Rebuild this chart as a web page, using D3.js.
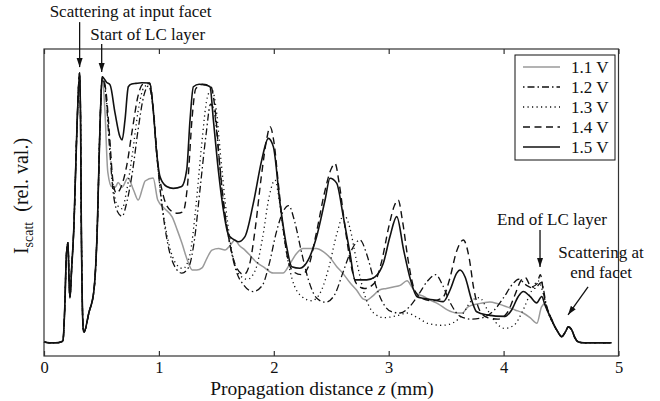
<!DOCTYPE html>
<html lang="en">
<head>
<meta charset="UTF-8" />
<title>Scattered intensity along the waveguide</title>
<script src="https://d3js.org/d3.v7.min.js"></script>
<style>
    body { margin: 0; background: #fff; }
    svg text { font-family: "Liberation Serif", "DejaVu Serif", serif; fill: #111; }
</style>
</head>
<body>
<script>
    var w = 660, h = 401;
    var plot = {left: 44, right: 618.5, top: 49, bottom: 356};

    // shared part: all voltages overlap before the LC layer
    var startPart = [
        [0, 0.046], [0.05, 0.043], [0.10, 0.043], [0.15, 0.046], [0.165, 0.05],
        [0.18, 0.15], [0.195, 0.33], [0.209, 0.369], [0.217, 0.26], [0.226, 0.19],
        [0.24, 0.28], [0.26, 0.42], [0.287, 0.746], [0.31, 0.922], [0.318, 0.78],
        [0.325, 0.42], [0.342, 0.085], [0.348, 0.078], [0.39, 0.14], [0.435, 0.215],
        [0.464, 0.42], [0.487, 0.746], [0.507, 0.909]
    ];
    // shared tail after the end of the LC layer
    var tailPart = [
        [4.44, 0.10], [4.47, 0.08], [4.506, 0.063], [4.54, 0.08], [4.563, 0.095],
        [4.593, 0.085], [4.62, 0.06], [4.65, 0.046], [4.70, 0.043], [4.80, 0.043], [4.94, 0.043]
    ];

    var v11 = [
        [0.53, 0.80], [0.555, 0.60], [0.59, 0.551], [0.62, 0.55], [0.645, 0.565], [0.68, 0.55],
        [0.73, 0.58], [0.78, 0.54], [0.82, 0.508], [0.86, 0.55], [0.88, 0.57], [0.95, 0.58],
        [0.99, 0.508], [1.05, 0.48], [1.115, 0.453], [1.16, 0.41], [1.20, 0.368], [1.25, 0.31],
        [1.29, 0.28], [1.33, 0.28], [1.375, 0.287], [1.42, 0.32], [1.462, 0.345], [1.52, 0.35],
        [1.575, 0.345], [1.62, 0.36], [1.662, 0.378], [1.70, 0.36], [1.749, 0.345], [1.80, 0.325],
        [1.85, 0.305], [1.91, 0.29], [1.996, 0.27], [2.08, 0.27], [2.14, 0.30], [2.20, 0.335],
        [2.255, 0.35], [2.31, 0.35], [2.37, 0.35], [2.43, 0.34], [2.49, 0.32], [2.55, 0.29],
        [2.60, 0.27], [2.66, 0.24], [2.72, 0.215], [2.78, 0.185], [2.81, 0.182], [2.86, 0.195],
        [2.92, 0.215], [2.98, 0.22], [3.04, 0.225], [3.10, 0.23], [3.16, 0.245], [3.20, 0.225],
        [3.24, 0.205], [3.30, 0.195], [3.36, 0.182], [3.43, 0.17], [3.51, 0.15], [3.59, 0.14],
        [3.64, 0.14], [3.69, 0.16], [3.78, 0.17], [3.88, 0.176], [3.95, 0.17], [4.03, 0.16],
        [4.10, 0.15], [4.17, 0.14], [4.23, 0.125], [4.29, 0.107], [4.33, 0.16], [4.36, 0.17],
        [4.39, 0.14], [4.42, 0.12]
    ];
    var v12 = [
        [0.54, 0.84], [0.57, 0.68], [0.60, 0.54], [0.64, 0.47], [0.68, 0.455], [0.72, 0.50],
        [0.77, 0.60], [0.82, 0.74], [0.87, 0.85], [0.91, 0.88], [0.945, 0.82], [0.98, 0.66],
        [1.03, 0.48], [1.08, 0.36], [1.14, 0.29], [1.20, 0.27], [1.26, 0.29], [1.31, 0.38],
        [1.36, 0.55], [1.41, 0.72], [1.45, 0.82], [1.48, 0.80], [1.52, 0.66], [1.56, 0.50],
        [1.61, 0.38], [1.67, 0.28], [1.74, 0.23], [1.82, 0.21], [1.90, 0.23], [1.96, 0.30],
        [2.02, 0.40], [2.08, 0.47], [2.13, 0.49], [2.18, 0.44], [2.24, 0.34], [2.30, 0.25],
        [2.37, 0.19], [2.45, 0.175], [2.53, 0.20], [2.60, 0.27], [2.67, 0.34], [2.75, 0.378],
        [2.81, 0.33], [2.87, 0.25], [2.94, 0.18], [3.02, 0.145], [3.10, 0.14], [3.18, 0.16],
        [3.26, 0.20], [3.34, 0.245], [3.41, 0.265], [3.47, 0.23], [3.54, 0.17], [3.62, 0.13],
        [3.72, 0.12], [3.82, 0.125], [3.92, 0.15], [4.00, 0.19], [4.08, 0.235], [4.13, 0.25],
        [4.20, 0.23], [4.27, 0.22], [4.33, 0.24], [4.37, 0.17], [4.41, 0.125]
    ];
    var v13 = [
        [0.54, 0.85], [0.57, 0.70], [0.60, 0.56], [0.64, 0.49], [0.68, 0.48], [0.72, 0.54],
        [0.77, 0.66], [0.82, 0.80], [0.87, 0.875], [0.92, 0.885], [0.955, 0.78], [0.99, 0.62],
        [1.04, 0.46], [1.09, 0.36], [1.15, 0.30], [1.21, 0.285], [1.27, 0.33], [1.32, 0.48],
        [1.37, 0.68], [1.42, 0.84], [1.46, 0.87], [1.50, 0.80], [1.54, 0.64], [1.59, 0.46],
        [1.64, 0.33], [1.70, 0.265], [1.77, 0.25], [1.84, 0.28], [1.90, 0.38], [1.96, 0.52],
        [2.01, 0.573], [2.05, 0.50], [2.10, 0.36], [2.16, 0.25], [2.24, 0.195], [2.33, 0.18],
        [2.41, 0.21], [2.48, 0.29], [2.55, 0.40], [2.61, 0.46], [2.66, 0.42], [2.72, 0.31],
        [2.79, 0.20], [2.87, 0.14], [2.96, 0.125], [3.06, 0.13], [3.16, 0.14], [3.25, 0.125],
        [3.35, 0.105], [3.47, 0.10], [3.57, 0.11], [3.65, 0.14], [3.72, 0.18], [3.79, 0.19],
        [3.86, 0.15], [3.93, 0.11], [4.01, 0.09], [4.09, 0.10], [4.17, 0.15], [4.24, 0.21],
        [4.30, 0.245], [4.34, 0.21], [4.38, 0.15], [4.41, 0.12]
    ];
    var v14 = [
        [0.54, 0.86], [0.57, 0.72], [0.60, 0.57], [0.63, 0.53], [0.67, 0.55], [0.72, 0.62],
        [0.77, 0.74], [0.82, 0.85], [0.86, 0.885], [0.92, 0.888], [0.955, 0.79], [0.99, 0.63],
        [1.04, 0.52], [1.10, 0.475], [1.16, 0.465], [1.21, 0.47], [1.25, 0.56], [1.29, 0.78],
        [1.32, 0.87], [1.38, 0.885], [1.45, 0.88], [1.49, 0.80], [1.53, 0.62], [1.57, 0.48],
        [1.62, 0.36], [1.68, 0.285], [1.74, 0.265], [1.79, 0.30], [1.84, 0.42], [1.89, 0.58],
        [1.94, 0.71], [1.967, 0.747], [2.00, 0.70], [2.04, 0.56], [2.08, 0.42], [2.12, 0.32],
        [2.17, 0.275], [2.24, 0.265], [2.30, 0.29], [2.37, 0.40], [2.44, 0.53], [2.50, 0.61],
        [2.533, 0.627], [2.57, 0.56], [2.62, 0.42], [2.67, 0.30], [2.72, 0.235], [2.79, 0.22],
        [2.87, 0.235], [2.94, 0.31], [3.00, 0.42], [3.05, 0.49], [3.083, 0.508], [3.12, 0.44],
        [3.17, 0.31], [3.22, 0.22], [3.28, 0.19], [3.38, 0.18], [3.47, 0.19], [3.53, 0.25],
        [3.59, 0.34], [3.65, 0.378], [3.70, 0.32], [3.74, 0.22], [3.79, 0.15], [3.86, 0.125],
        [3.95, 0.12], [4.03, 0.14], [4.10, 0.20], [4.15, 0.245], [4.19, 0.255], [4.24, 0.225],
        [4.29, 0.235], [4.32, 0.265], [4.35, 0.20], [4.38, 0.15], [4.41, 0.125]
    ];
    var v15 = [
        [0.546, 0.891], [0.575, 0.883], [0.618, 0.792], [0.661, 0.714], [0.68, 0.704], [0.705, 0.769],
        [0.734, 0.877], [0.763, 0.886], [0.80, 0.888], [0.85, 0.89], [0.92, 0.889], [0.951, 0.80],
        [0.981, 0.661], [1.01, 0.584], [1.068, 0.552], [1.125, 0.546], [1.198, 0.552], [1.242, 0.606],
        [1.271, 0.769], [1.30, 0.877], [1.35, 0.885], [1.40, 0.883], [1.445, 0.877], [1.474, 0.769],
        [1.517, 0.606], [1.561, 0.476], [1.605, 0.395], [1.65, 0.38], [1.691, 0.372], [1.749, 0.389],
        [1.822, 0.498], [1.895, 0.638], [1.952, 0.709], [1.996, 0.682], [2.054, 0.498], [2.112, 0.356],
        [2.156, 0.291], [2.228, 0.286], [2.30, 0.313], [2.373, 0.389], [2.446, 0.508], [2.489, 0.579],
        [2.547, 0.563], [2.605, 0.454], [2.663, 0.335], [2.707, 0.248], [2.809, 0.248], [2.881, 0.258],
        [2.953, 0.302], [3.011, 0.389], [3.07, 0.454], [3.13, 0.345], [3.19, 0.248], [3.245, 0.194],
        [3.301, 0.188], [3.40, 0.182], [3.475, 0.177], [3.534, 0.215], [3.592, 0.27], [3.621, 0.28],
        [3.664, 0.258], [3.722, 0.182], [3.766, 0.144], [3.853, 0.134], [4.012, 0.129], [4.07, 0.15],
        [4.128, 0.194], [4.172, 0.21], [4.23, 0.194], [4.288, 0.173], [4.332, 0.194], [4.36, 0.166],
        [4.404, 0.129]
    ];

    var voltages = ["1.1 V", "1.2 V", "1.3 V", "1.4 V", "1.5 V"];
    var xTicks = [0, 1, 2, 3, 4, 5];

    var annotations = [
        {lines: ["Scattering at input facet"], z: 0.31, v: 0.941, tail: [0, -45], text: [51, -50]},
        {lines: ["Start of LC layer"], z: 0.502, v: 0.925, tail: [0, -28], text: [46, -32]},
        {lines: ["End of LC layer"], z: 4.317, v: 0.29, tail: [0, -37], text: [12, -42]},
        {lines: ["Scattering at", "end facet"], z: 4.561, v: 0.134, tail: [20, -28], text: [33, -57]}
    ];

    var styles = [
        {color: "#9a9a9a", dash: null, width: 1.5},
        {color: "#111", dash: "1.5,3,7,3", width: 1.3},
        {color: "#111", dash: "1.2,3.3", width: 1.3},
        {color: "#111", dash: "7,4.5", width: 1.4},
        {color: "#111", dash: null, width: 1.6}
    ];

    var series = [v11, v12, v13, v14, v15].map(function(mid, i) {
        return {name: voltages[i], values: startPart.concat(mid, tailPart)};
    });

    var svg = d3.select("body").append("svg")
        .attr("width", w)
        .attr("height", h);

    var defs = svg.append("defs");
    defs.append("marker")
        .attr("id", "arrow")
        .attr("markerUnits", "userSpaceOnUse")
        .attr("viewBox", "0 -4 9 8")
        .attr("refX", 9).attr("refY", 0)
        .attr("markerWidth", 9).attr("markerHeight", 8)
        .attr("orient", "auto")
        .append("path")
        .attr("d", "M0,-3L9,0L0,3Z")
        .attr("fill", "#111");

    var xScale = d3.scaleLinear().domain([0, 5]).range([plot.left, plot.right]);
    var yScale = d3.scaleLinear().domain([0, 1]).range([plot.bottom, plot.top]);

    // curves
    var line = d3.line()
        .x(function(d) { return xScale(d[0]); })
        .y(function(d) { return yScale(d[1]); })
        .curve(d3.curveMonotoneX);

    svg.append("g").selectAll("path")
        .data(series)
        .enter()
        .append("path")
        .attr("d", function(d) { return line(d.values); })
        .attr("fill", "none")
        .attr("stroke", function(d, i) { return styles[i].color; })
        .attr("stroke-width", function(d, i) { return styles[i].width; })
        .attr("stroke-dasharray", function(d, i) { return styles[i].dash; })
        .attr("stroke-linejoin", "round");

    // frame and ticks
    svg.append("rect")
        .attr("x", plot.left).attr("y", plot.top)
        .attr("width", plot.right - plot.left)
        .attr("height", plot.bottom - plot.top)
        .attr("fill", "none")
        .attr("stroke", "#333")
        .attr("stroke-width", 1.2);

    var xAxis = svg.append("g")
        .attr("transform", "translate(0," + plot.bottom + ")")
        .call(d3.axisBottom(xScale).tickValues(xTicks).tickSize(-5).tickPadding(5).tickFormat(d3.format("d")));
    xAxis.select(".domain").remove();
    xAxis.selectAll("line").attr("stroke", "#333").attr("stroke-width", 1.2);
    xAxis.attr("font-family", null).attr("font-size", null);
    xAxis.selectAll("text").style("font-size", "16.5px");

    var topAxis = svg.append("g")
        .attr("transform", "translate(0," + plot.top + ")")
        .call(d3.axisTop(xScale).tickValues(xTicks).tickSize(-5).tickFormat(""));
    topAxis.select(".domain").remove();
    topAxis.selectAll("line").attr("stroke", "#333").attr("stroke-width", 1.2);

    // axis titles
    var xt = svg.append("text")
        .attr("x", 322).attr("y", 395)
        .attr("text-anchor", "middle")
        .style("font-size", "19.5px");
    xt.append("tspan").text("Propagation distance ");
    xt.append("tspan").style("font-style", "italic").text("z");
    xt.append("tspan").text(" (mm)");

    var yt = svg.append("text")
        .attr("transform", "translate(28,196) rotate(-90)")
        .attr("text-anchor", "middle")
        .style("font-size", "20px");
    yt.append("tspan").text("I");
    yt.append("tspan").attr("dy", 5).style("font-size", "14px").text("scatt");
    yt.append("tspan").attr("dy", -5).attr("dx", 10).text("(rel. val.)");

    // annotations
    var ann = svg.append("g").selectAll("g")
        .data(annotations)
        .enter()
        .append("g")
        .attr("transform", function(d) {
            return "translate(" + xScale(d.z) + "," + yScale(d.v) + ")";
        });
    ann.append("line")
        .attr("x1", function(d) { return d.tail[0]; })
        .attr("y1", function(d) { return d.tail[1]; })
        .attr("x2", 0).attr("y2", 0)
        .attr("stroke", "#111")
        .attr("stroke-width", 1.3)
        .attr("marker-end", "url(#arrow)");
    ann.each(function(d) {
        var t = d3.select(this).append("text")
            .attr("text-anchor", "middle")
            .style("font-size", "17px");
        d.lines.forEach(function(s, k) {
            t.append("tspan")
                .attr("x", d.text[0])
                .attr("y", d.text[1] + k * 20)
                .text(s);
        });
    });

    // legend
    var legend = svg.append("g").attr("transform", "translate(515,55)");
    legend.append("rect")
        .attr("width", 100).attr("height", 105)
        .attr("fill", "#fff")
        .attr("stroke", "#111")
        .attr("stroke-width", 1);
    var rows = legend.selectAll(".row")
        .data(voltages)
        .enter()
        .append("g")
        .attr("class", "row")
        .attr("transform", function(d, i) { return "translate(0," + (12 + i * 20) + ")"; });
    rows.append("line")
        .attr("x1", 8).attr("x2", 45)
        .attr("stroke", function(d, i) { return styles[i].color; })
        .attr("stroke-width", function(d, i) { return styles[i].width; })
        .attr("stroke-dasharray", function(d, i) { return styles[i].dash; });
    rows.append("text")
        .attr("x", 56).attr("y", 6)
        .style("font-size", "17px")
        .text(function(d) { return d; });
</script>
</body>
</html>
